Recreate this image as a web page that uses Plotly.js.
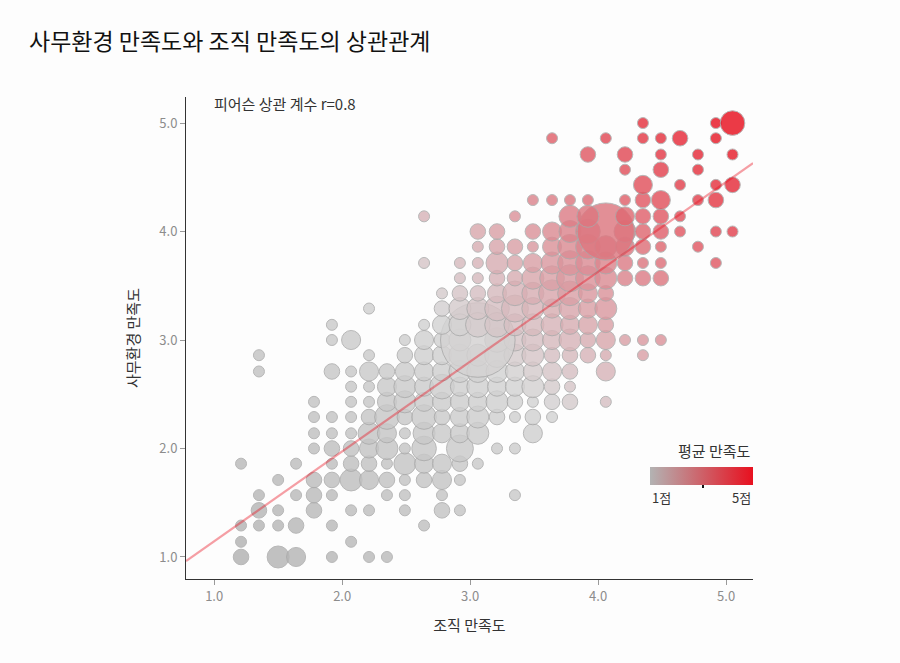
<!DOCTYPE html>
<html>
<head>
<meta charset="utf-8">
<script src="https://cdn.plot.ly/plotly-3.0.1.min.js"></script>
<style>
  html, body { margin: 0; padding: 0; background: #fdfdfd; }
  #chart { width: 900px; height: 663px; }
</style>
</head>
<body>
<div id="chart"></div>
<script>
// 사무환경 만족도 (y) levels, one per row of bubbles
const envLevels = [1.00, 1.14, 1.29, 1.43, 1.57, 1.71, 1.86, 2.00, 2.14, 2.29,
                   2.43, 2.57, 2.71, 2.86, 3.00, 3.14, 3.29, 3.43, 3.57, 3.71,
                   3.86, 4.00, 4.14, 4.29, 4.43, 4.57, 4.71, 4.86, 5.00];

// 조직 만족도 (x) of the bubbles in each row
const orgByRow = [
  [1.21, 1.50, 1.64, 1.92, 2.21, 2.35],
  [1.21, 2.07],
  [1.21, 1.35, 1.50, 1.64, 1.92, 2.64],
  [1.35, 1.50, 1.78, 2.07, 2.21, 2.49, 2.78, 2.92],
  [1.35, 1.64, 1.78, 1.92, 2.35, 2.49, 2.78, 3.35],
  [1.50, 1.78, 1.92, 2.07, 2.21, 2.35, 2.49, 2.64, 2.78, 2.92],
  [1.21, 1.64, 1.92, 2.07, 2.21, 2.35, 2.49, 2.64, 2.78, 2.92, 3.06],
  [1.78, 1.92, 2.07, 2.21, 2.35, 2.49, 2.64, 2.92, 3.21, 3.35],
  [1.78, 1.92, 2.07, 2.21, 2.35, 2.49, 2.64, 2.78, 2.92, 3.06, 3.49],
  [1.78, 1.92, 2.07, 2.21, 2.35, 2.49, 2.64, 2.78, 2.92, 3.06, 3.21, 3.35, 3.49, 3.64],
  [1.78, 2.07, 2.21, 2.35, 2.49, 2.64, 2.78, 2.92, 3.06, 3.21, 3.35, 3.49, 3.64, 3.78, 4.06],
  [2.07, 2.21, 2.35, 2.49, 2.64, 2.78, 2.92, 3.06, 3.21, 3.35, 3.49, 3.64, 3.78],
  [1.35, 1.92, 2.07, 2.21, 2.35, 2.49, 2.64, 2.78, 2.92, 3.06, 3.21, 3.35, 3.49, 3.64, 3.78, 4.06],
  [1.35, 2.21, 2.49, 2.64, 2.78, 2.92, 3.06, 3.21, 3.35, 3.49, 3.64, 3.78, 3.92, 4.06, 4.35],
  [1.92, 2.07, 2.49, 2.64, 2.78, 2.92, 3.21, 3.35, 3.49, 3.64, 3.78, 3.92, 4.06, 4.21, 4.35, 4.49, 3.06],
  [1.92, 2.64, 2.78, 2.92, 3.06, 3.21, 3.35, 3.49, 3.64, 3.78, 3.92, 4.06],
  [2.21, 2.78, 2.92, 3.06, 3.21, 3.35, 3.49, 3.64, 3.78, 3.92, 4.06],
  [2.78, 2.92, 3.06, 3.21, 3.35, 3.49, 3.64, 3.78, 3.92, 4.06],
  [2.92, 3.06, 3.21, 3.35, 3.49, 3.64, 3.78, 3.92, 4.06, 4.21, 4.35, 4.49],
  [2.64, 2.92, 3.06, 3.21, 3.35, 3.49, 3.64, 3.78, 3.92, 4.06, 4.21, 4.35, 4.49, 4.92],
  [3.06, 3.21, 3.35, 3.49, 3.64, 3.78, 3.92, 4.06, 4.21, 4.35, 4.49, 4.78],
  [3.06, 3.21, 3.49, 3.64, 3.78, 3.92, 4.21, 4.35, 4.49, 4.64, 4.92, 5.05, 4.06],
  [2.64, 3.35, 3.78, 3.92, 4.21, 4.35, 4.49, 4.64],
  [3.49, 3.64, 3.78, 3.92, 4.21, 4.35, 4.49, 4.78, 4.92],
  [4.35, 4.64, 4.92, 5.05],
  [4.21, 4.49, 4.78],
  [3.92, 4.21, 4.49, 4.78, 5.05],
  [3.64, 4.06, 4.35, 4.49, 4.64, 4.92],
  [4.35, 4.92, 5.05]
];

// number of respondents in each bubble (same layout as orgByRow)
const countByRow = [
  [2, 4, 3, 1, 1, 1],
  [1, 1],
  [1, 1, 1, 2, 1, 1],
  [2, 1, 2, 1, 1, 1, 2, 1],
  [1, 1, 2, 1, 1, 1, 1, 1],
  [1, 2, 2, 4, 3, 2, 1, 2, 3, 1],
  [1, 1, 1, 2, 2, 1, 4, 3, 3, 2, 1],
  [1, 2, 2, 3, 4, 1, 5, 6, 1, 1],
  [1, 1, 1, 4, 3, 1, 4, 3, 3, 4, 3],
  [1, 1, 1, 2, 5, 2, 5, 2, 3, 4, 2, 1, 2, 1],
  [1, 1, 1, 3, 4, 3, 3, 3, 3, 4, 2, 1, 2, 2, 1],
  [1, 1, 3, 4, 3, 5, 3, 4, 3, 3, 4, 2, 1],
  [1, 2, 1, 3, 2, 3, 3, 3, 4, 4, 4, 3, 3, 3, 2, 3],
  [1, 1, 2, 3, 3, 4, 4, 5, 4, 4, 2, 2, 2, 1, 1],
  [1, 3, 1, 3, 2, 4, 5, 4, 4, 3, 4, 2, 3, 1, 1, 1, 46],
  [1, 1, 3, 4, 5, 5, 4, 4, 4, 3, 3, 2],
  [1, 2, 4, 4, 5, 6, 4, 3, 4, 3, 4],
  [1, 2, 2, 3, 5, 4, 6, 5, 3, 2],
  [1, 1, 2, 2, 4, 5, 6, 5, 4, 2, 2, 2],
  [1, 1, 1, 4, 2, 3, 4, 5, 5, 4, 2, 1, 1, 1],
  [1, 2, 2, 1, 3, 5, 5, 4, 3, 2, 1, 1],
  [2, 2, 2, 3, 4, 5, 4, 2, 2, 1, 1, 1, 27],
  [1, 1, 4, 4, 3, 2, 2, 1],
  [1, 1, 1, 1, 1, 2, 3, 1, 2],
  [3, 1, 1, 2],
  [1, 2, 1],
  [2, 2, 1, 1, 1],
  [1, 1, 1, 1, 2, 1],
  [1, 1, 5]
];

// regression line and summary values
const regSlope = 0.828;
const regIntercept = 0.317;
const pearsonR = 0.8;
const meanScore = 3.06;
const scoreMin = 1;
const scoreMax = 5;

// flatten rows into point lists
let orgScore = [];
let envScore = [];
let respondents = [];
let avgScore = [];
for (let r = 0; r < envLevels.length; r++) {
  for (let i = 0; i < orgByRow[r].length; i++) {
    orgScore.push(orgByRow[r][i]);
    envScore.push(envLevels[r]);
    respondents.push(countByRow[r][i]);
    avgScore.push((orgByRow[r][i] + envLevels[r]) / 2);
  }
}

const xRange = [0.78, 5.21];
const yRange = [0.797, 5.24];
const fontFamily = '"Noto Sans CJK KR", "Noto Sans", sans-serif';

// one respondent is drawn as an ~11px circle, area grows with count
const oneDiameter = 11;

const bubbles = {
  x: orgScore,
  y: envScore,
  mode: 'markers',
  type: 'scatter',
  hoverinfo: 'skip',
  marker: {
    size: respondents,
    sizemode: 'area',
    sizeref: 2 / (oneDiameter * oneDiameter),
    color: avgScore,
    cmin: scoreMin,
    cmax: scoreMax,
    colorscale: [
      [0, '#b0b0b0'], [0.5, '#d4d4d4'], [0.6, '#d8b4b8'], [0.7, '#db8e96'],
      [0.8, '#df6670'], [0.9, '#e43b48'], [1, '#e8101f']
    ],
    opacity: 0.82,
    showscale: false,
    line: { color: '#a9a9a9', width: 1 }
  },
  showlegend: false
};

const trend = {
  x: xRange,
  y: xRange.map(v => regIntercept + regSlope * v),
  mode: 'lines',
  type: 'scatter',
  hoverinfo: 'skip',
  line: { color: 'rgba(232,16,31,0.4)', width: 2.2 },
  showlegend: false
};

// colour key only: no visible points
const cbX = 0.8183;
const cbY = 0.195;
const cbLenPx = 103;
const plotW = 567, plotH = 482;
const scaleKey = {
  x: [null, null],
  y: [null, null],
  mode: 'markers',
  type: 'scatter',
  hoverinfo: 'skip',
  showlegend: false,
  marker: {
    color: [scoreMin, scoreMax],
    cmin: scoreMin,
    cmax: scoreMax,
    colorscale: [[0, '#b3b3b3'], [1, '#e8101f']],
    showscale: true,
    colorbar: {
      orientation: 'h',
      thickness: 18, thicknessmode: 'pixels',
      len: cbLenPx, lenmode: 'pixels',
      x: cbX, xanchor: 'left',
      y: cbY, yanchor: 'bottom',
      xpad: 0, ypad: 0,
      outlinewidth: 0,
      showticklabels: false,
      ticks: ''
    }
  }
};

const meanX = cbX + (meanScore - scoreMin) / (scoreMax - scoreMin) * cbLenPx / plotW;

const layout = {
  width: 900,
  height: 663,
  margin: { l: 186, r: 147, t: 97, b: 84 },
  paper_bgcolor: '#fdfdfd',
  plot_bgcolor: '#fdfdfd',
  font: { family: fontFamily, color: '#333' },
  title: {
    text: '사무환경 만족도와 조직 만족도의 상관관계',
    font: { family: fontFamily, size: 23, color: '#111' },
    xref: 'container', x: 29 / 900, xanchor: 'left',
    yref: 'container', y: 1 - 42 / 663, yanchor: 'middle'
  },
  xaxis: {
    range: xRange,
    tickvals: [1, 2, 3, 4, 5],
    tickformat: '.1f',
    ticks: 'outside', ticklen: 5, tickcolor: '#999',
    tickfont: { size: 13, color: '#8c8c8c' },
    showline: true, linecolor: '#333', linewidth: 1,
    showgrid: false, zeroline: false,
    title: { text: '조직 만족도', font: { size: 15, color: '#333' }, standoff: 16 }
  },
  yaxis: {
    range: yRange,
    tickvals: [1, 2, 3, 4, 5],
    tickformat: '.1f',
    ticks: 'outside', ticklen: 5, tickcolor: '#999',
    tickfont: { size: 13, color: '#8c8c8c' },
    showline: true, linecolor: '#333', linewidth: 1,
    showgrid: false, zeroline: false,
    title: { text: '사무환경 만족도', font: { size: 15, color: '#333' }, standoff: 16 }
  },
  annotations: [
    {
      text: '피어슨 상관 계수 r=' + pearsonR,
      xref: 'paper', x: 26 / plotW, xanchor: 'left',
      yref: 'paper', y: (482 - 7) / 482, yanchor: 'middle',
      showarrow: false, font: { size: 15, color: '#333' }
    },
    {
      text: '평균 만족도',
      xref: 'paper', x: 1.0, xanchor: 'right',
      yref: 'paper', y: 0.2676, yanchor: 'middle',
      showarrow: false, font: { size: 15, color: '#333' }
    },
    {
      text: scoreMin + '점',
      xref: 'paper', x: cbX, xanchor: 'left',
      yref: 'paper', y: 0.170, yanchor: 'middle',
      showarrow: false, font: { size: 13, color: '#333' }
    },
    {
      text: scoreMax + '점',
      xref: 'paper', x: cbX + cbLenPx / plotW, xanchor: 'right',
      yref: 'paper', y: 0.170, yanchor: 'middle',
      showarrow: false, font: { size: 13, color: '#333' }
    }
  ],
  shapes: [
    {
      type: 'line', xref: 'paper', yref: 'paper',
      x0: meanX, x1: meanX,
      y0: cbY - 3 / plotH, y1: cbY + 4 / plotH,
      line: { color: '#111', width: 2 }
    }
  ]
};

Plotly.newPlot('chart', [bubbles, trend, scaleKey], layout, { displayModeBar: false, staticPlot: true });
</script>
</body>
</html>
